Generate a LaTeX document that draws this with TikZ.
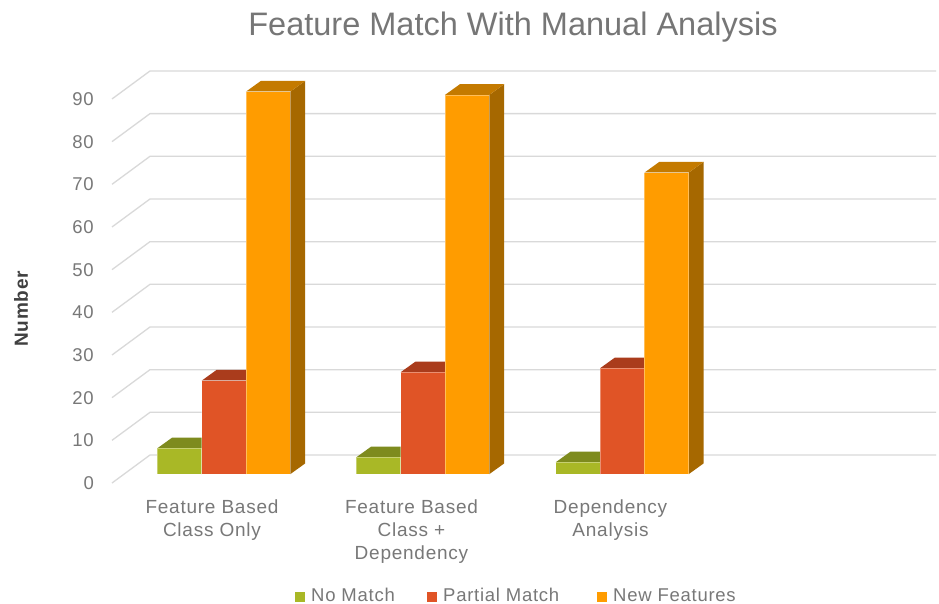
\documentclass[tikz,border=0pt]{standalone}
\usepackage{fontspec}
\setmainfont{Liberation Sans}

\definecolor{gridgray}{RGB}{217,217,217}
\definecolor{titlegray}{RGB}{118,118,118}
\definecolor{labelgray}{RGB}{120,120,120}
\definecolor{axisdark}{RGB}{64,64,64}
\definecolor{greenF}{RGB}{169,184,38}
\definecolor{greenT}{RGB}{126,139,30}
\definecolor{greenS}{RGB}{110,122,26}
\definecolor{redF}{RGB}{224,84,38}
\definecolor{redT}{RGB}{170,60,28}
\definecolor{redS}{RGB}{150,54,24}
\definecolor{orangeF}{RGB}{255,156,0}
\definecolor{orangeT}{RGB}{196,122,0}
\definecolor{orangeS}{RGB}{166,104,0}

% one 3-D column: left x, top y (front face), front, top and side colours
\newcommand\drawcol[5]{%
  \fill[#5] (#1+44.3,474.2) -- (#1+59.3,463.4) -- (#1+59.3,#2-10.8) -- (#1+44.3,#2) -- cycle;
  \fill[#4] (#1,#2) -- (#1+44.3,#2) -- (#1+59.3,#2-10.8) -- (#1+15,#2-10.8) -- cycle;
  \fill[#3] (#1,474.2) rectangle (#1+44.3,#2);
  \draw[white,opacity=0.35,line width=0.8] (#1,474.2) -- (#1,#2) -- (#1+44.3,#2) -- (#1+44.3,474.2);
}

\tikzset{
  grid/.style={draw=gridgray,line width=1.3},
  ticklbl/.style={anchor=east,inner sep=0,text=labelgray,font=\fontsize{18.5}{20}\selectfont\addfontfeatures{LetterSpace=4}},
  catlbl/.style={anchor=north,inner sep=0,align=center,text=labelgray,font=\fontsize{19}{23}\selectfont\addfontfeatures{LetterSpace=4}},
  legtxt/.style={anchor=base west,inner sep=0,text=labelgray,font=\fontsize{18.5}{20}\selectfont\addfontfeatures{LetterSpace=4}},
  legkey/.style={minimum size=10,inner sep=0,anchor=south west},
}

\begin{document}
\begin{tikzpicture}[x=1pt,y=-1pt]
  \useasboundingbox[fill=white] (0,0) rectangle (939,604);

  % title
  \node[anchor=base,inner sep=0,text=titlegray,font=\fontsize{32.5}{35}\selectfont] (title) at (513,36) {Feature Match With Manual Analysis};

  % axis title
  \node[rotate=90,inner sep=0,text=axisdark,font=\bfseries\fontsize{19}{20}\selectfont\addfontfeatures{LetterSpace=4}] (ytitle) at (21,309) {Number};

  % gridlines and value labels
  \foreach \v [evaluate=\v as \t using int(10*\v)] in {0,...,9} {
    \draw[grid] (112,483-42.67*\v) -- (150,455-42.67*\v) -- (936,455-42.67*\v);
    \node[ticklbl] (tick\v) at (94,483-42.67*\v) {\t};
  }

  % columns: No Match, Partial Match, New Features
  \drawcol{157.3}{448.3}{greenF}{greenT}{greenS}
  \drawcol{201.6}{380.7}{redF}{redT}{redS}
  \drawcol{245.9}{91.7}{orangeF}{orangeT}{orangeS}

  \drawcol{356.3}{457.3}{greenF}{greenT}{greenS}
  \drawcol{400.6}{372.3}{redF}{redT}{redS}
  \drawcol{444.9}{95.0}{orangeF}{orangeT}{orangeS}

  \drawcol{555.7}{462.3}{greenF}{greenT}{greenS}
  \drawcol{600.0}{368.3}{redF}{redT}{redS}
  \drawcol{644.3}{172.7}{orangeF}{orangeT}{orangeS}

  % category labels
  \node[catlbl] (cat1) at (212,500) {Feature Based\\Class Only};
  \node[catlbl] (cat2) at (411.5,500) {Feature Based\\Class +\\Dependency};
  \node[catlbl] (cat3) at (610.5,500) {Dependency\\Analysis};

  % legend
  \node[legkey,fill=greenF] (key1) at (295,602) {};
  \node[legtxt] (leg1) at (311,601) {No Match};
  \node[legkey,fill=redF] (key2) at (427,602) {};
  \node[legtxt] (leg2) at (443,601) {Partial Match};
  \node[legkey,fill=orangeF] (key3) at (597,602) {};
  \node[legtxt] (leg3) at (613,601) {New Features};
\end{tikzpicture}
\end{document}
